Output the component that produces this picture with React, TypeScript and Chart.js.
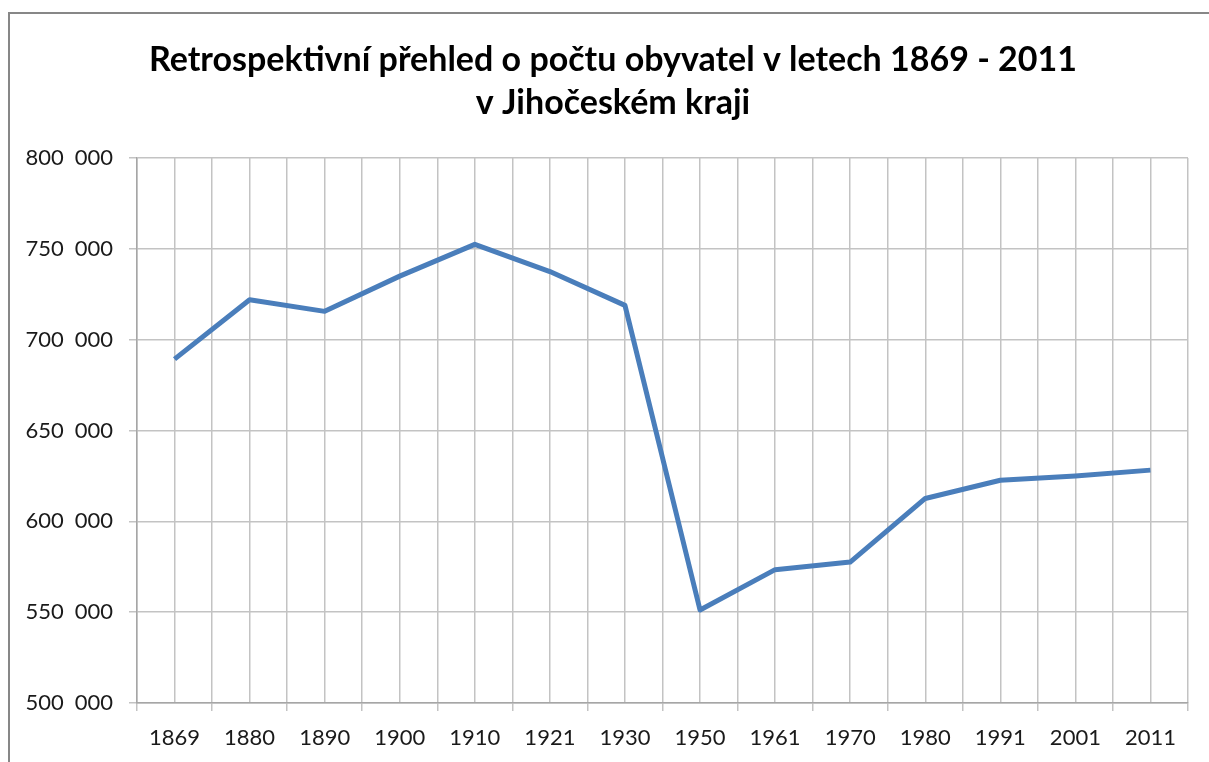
import React, { useEffect, useRef } from "react";
import { Chart, registerables } from "chart.js";

Chart.register(...registerables);

const years = ["1869", "1880", "1890", "1900", "1910", "1921", "1930", "1950", "1961", "1970", "1980", "1991", "2001", "2011"];
const population = [689300, 722000, 715600, 735000, 752500, 737500, 718900, 551200, 573400, 577600, 612600, 622600, 625000, 628200];
const titleLines = ["Retrospektivní přehled o počtu obyvatel v letech 1869 - 2011", "v Jihočeském kraji"];
const yMin = 500000;
const yMax = 800000;
const yStep = 50000;

const fmt = (v: number) => {
  const s = Math.round(v).toString();
  return s.replace(/\B(?=(\d{3})+(?!\d))/g, "\u2002");
};

export default function App() {
  const ref = useRef<HTMLCanvasElement | null>(null);

  useEffect(() => {
    if (!ref.current) return;
    const gridColor = "#c3c3c3";
    const chart = new Chart(ref.current, {
      type: "line",
      data: {
        labels: years,
        datasets: [
          {
            data: population,
            borderColor: "#4A7EBB",
            borderWidth: 5,
            pointRadius: 0,
            tension: 0,
            borderJoinStyle: "round",
            borderCapStyle: "butt",
          },
        ],
      },
      options: {
        responsive: false,
        animation: false,
        layout: { padding: 0 },
        plugins: {
          legend: { display: false },
          tooltip: { enabled: false },
          title: {
            display: true,
            text: titleLines,
            color: "#000",
            font: { family: "Lato", size: 34, weight: "bold", lineHeight: 1.28 },
            padding: { top: 38, bottom: 33 },
          },
        },
        scales: {
          x: {
            type: "category",
            offset: true,
            grid: { offset: true, color: gridColor, lineWidth: 1.5, tickLength: 8, drawTicks: true },
            border: { display: true, color: "#a6a6a6", width: 1.5 },
            ticks: {
              color: "#1a1a1a",
              font: { family: "Lato", size: 22 },
              padding: 14,
              maxRotation: 0,
              autoSkip: false,
            },
            afterFit: (s: any) => {
              s.height = 59;
            },
          },
          x2: {
            type: "category",
            position: "bottom",
            offset: true,
            grid: { offset: false, color: gridColor, lineWidth: 1.5, drawTicks: false },
            border: { display: false },
            ticks: { display: false },
            afterFit: (s: any) => {
              s.height = 0;
            },
          },
          y: {
            min: yMin,
            max: yMax,
            grid: { color: gridColor, lineWidth: 1.5, tickLength: 8, drawTicks: true },
            border: { display: true, color: "#a6a6a6", width: 1.5 },
            ticks: {
              stepSize: yStep,
              color: "#1a1a1a",
              font: { family: "Lato", size: 22 },
              padding: 16,
              callback: (v: any) => fmt(Number(v)),
            },
            afterFit: (s: any) => {
              s.width = 137;
            },
          },
          yRight: {
            type: "linear",
            position: "right",
            grid: { display: false, drawTicks: false },
            border: { display: false },
            ticks: { display: false },
            afterFit: (s: any) => {
              s.width = 38;
            },
          },
        },
      },
    });
    return () => chart.destroy();
  }, []);

  return (
    <div
      style={{
        position: "fixed",
        left: 0,
        top: 0,
        width: 1209,
        height: 762,
        overflow: "hidden",
        background: "#fff",
      }}
    >
      <div
        style={{
          position: "absolute",
          left: 8,
          top: 12,
          width: 1400,
          height: 1000,
          border: "2px solid #878787",
          boxSizing: "border-box",
        }}
      />
      <canvas ref={ref} width={1226} height={762} style={{ position: "absolute", left: 0, top: 0 }} />
    </div>
  );
}
